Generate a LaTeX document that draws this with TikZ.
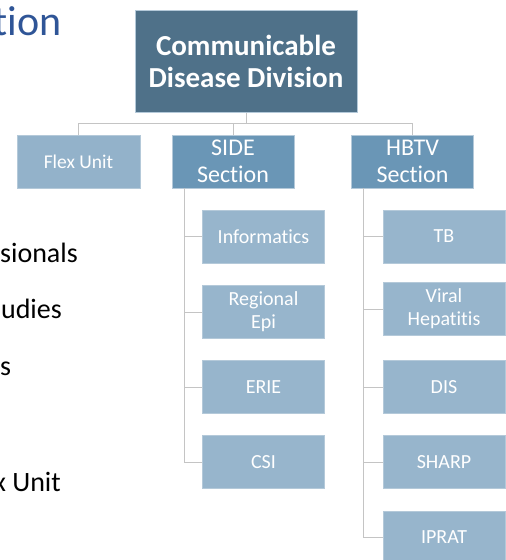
\documentclass[tikz,border=0pt]{standalone}
\usepackage{fontspec}
\setmainfont[Ligatures=NoCommon]{Carlito}
\definecolor{topfill}{HTML}{4F7189}
\definecolor{secfill}{HTML}{6A96B6}
\definecolor{flexfill}{HTML}{93B2CA}
\definecolor{kidfill}{HTML}{97B5CC}
\definecolor{edge}{HTML}{B4C9D9}
\definecolor{conncol}{HTML}{C4C4C4}
\definecolor{titleblue}{HTML}{2F5597}
\tikzset{
  box/.style={draw=edge, line width=1pt, text=white, align=center, inner sep=0pt},
  topbox/.style={box, fill=topfill, minimum width=222pt, minimum height=102pt, font=\fontsize{29}{32}\selectfont\bfseries},
  secbox/.style={box, fill=secfill, minimum width=122pt, minimum height=53pt, font=\fontsize{24}{27}\selectfont},
  flexbox/.style={box, fill=flexfill, minimum width=123pt, minimum height=53pt, font=\fontsize{19.5}{23}\selectfont},
  kidbox/.style={box, fill=kidfill, minimum width=122pt, minimum height=53pt, font=\fontsize{20}{23}\selectfont},
  conn/.style={draw=conncol, line width=1pt},
  bg/.style={anchor=base east, inner sep=0pt, font=\fontsize{28}{32}\selectfont}
}
\begin{document}
\begin{tikzpicture}[x=1pt,y=-1pt]
\useasboundingbox (0,0) rectangle (506,560);
\fill[white] (0,0) rectangle (506,560);
% background slide text
\node[bg, text=titleblue, font=\fontsize{42}{48}\selectfont] (t0) at (62,35) {tion};
\node[bg] (t1) at (78,262) {sionals};
\node[bg] (t2) at (62,318) {udies};
\node[bg, anchor=base west] (t3) at (0,375) {s};
\node[bg] (t4) at (61,491) {x Unit};
% boxes
\node[topbox] (top) at (246,61) {Communicable\\Disease Division};
\node[flexbox] (flex) at (78.5,161.5) {Flex Unit};
\node[secbox] (side) at (233,161.5) {SIDE\\Section};
\node[secbox] (hbtv) at (412.5,161.5) {HBTV\\Section};
\node[kidbox] (info) at (263.5,236.5) {Informatics};
\node[kidbox] (repi) at (263.5,312) {Regional\\Epi};
\node[kidbox] (erie) at (263.5,387) {ERIE};
\node[kidbox] (csi) at (263.5,462) {CSI};
\node[kidbox] (tb) at (444,236.5) {TB};
\node[kidbox] (viral) at (444,309) {Viral\\Hepatitis};
\node[kidbox] (dis) at (444,387) {DIS};
\node[kidbox] (sharp) at (444,462) {SHARP};
\node[kidbox] (iprat) at (444,537.5) {IPRAT};
% connectors
\draw[conn] (top.south) -- ++(0,11) coordinate (bus);
\draw[conn] (bus) -| (flex.north);
\draw[conn] (bus) -| (side.north);
\draw[conn] (bus) -| (hbtv.north);
\coordinate (sbar) at (184,188);
\coordinate (hbar) at (363,188);
\draw[conn] (sbar) |- (csi.west);
\foreach \k in {info,repi,erie} \draw[conn] (sbar |- \k.west) -- (\k.west);
\draw[conn] (hbar) |- (iprat.west);
\foreach \k in {tb,viral,dis,sharp} \draw[conn] (hbar |- \k.west) -- (\k.west);
\end{tikzpicture}
\end{document}
